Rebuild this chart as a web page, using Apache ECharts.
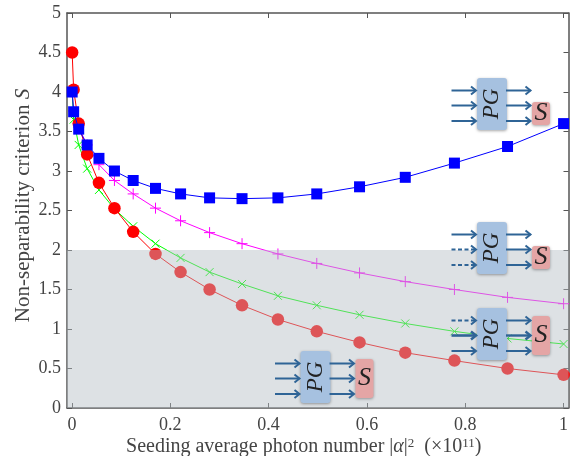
<!DOCTYPE html>
<html><head><meta charset="utf-8">
<script src="https://cdn.jsdelivr.net/npm/echarts@6/dist/echarts.min.js"></script>
<style>html,body{margin:0;padding:0;background:#fff}#c{width:580px;height:456px}</style>
</head><body><div id="c"></div>
<script>
const seeding = [0.0005,0.0035,0.0138,0.031,0.055,0.0865,0.1246,0.17,0.221,0.28,0.346,0.419,0.498,0.585,0.678,0.778,0.886,1];
const blueS    = [4.0,3.75,3.53,3.33,3.16,3.0,2.88,2.78,2.71,2.66,2.65,2.66,2.71,2.80,2.92,3.10,3.31,3.60];
const magentaS = [4.0,3.76,3.55,3.33,3.08,2.88,2.71,2.53,2.37,2.22,2.08,1.95,1.83,1.71,1.60,1.50,1.40,1.32];
const greenS   = [4.0,3.65,3.33,3.03,2.76,2.52,2.30,2.08,1.90,1.72,1.57,1.42,1.30,1.18,1.07,0.97,0.88,0.81];
const redS     = [4.5,4.03,3.6,3.21,2.85,2.53,2.23,1.95,1.72,1.50,1.30,1.12,0.97,0.83,0.70,0.60,0.50,0.42];
const xTicks = [0,0.2,0.4,0.6,0.8,1];
const separableLimit = 2;

const FONT = '"Liberation Serif"';
const AXIS = '#555';
const pair = a => a.map((v,i)=>[seeding[i],v]);
const mk = (name,data,color,symbol,size,z,stroke)=>({
  name,type:'line',data:pair(data),z,symbol,symbolSize:size,clip:false,
  lineStyle:{color,width:1},
  itemStyle:stroke?{color:'none',borderColor:color,borderWidth:1}:{color},
  emphasis:{disabled:true},animation:false
});
const PLUS='path://M0 5H10M5 0V10', CROSS='path://M0 0L10 10M0 10L10 0';

function arrow(x0,x1,y,dashed,w){
  const c='#2f6496', lw=w||2;
  return [
    {type:'polyline',z:100,silent:true,shape:{points:[[x0,y],[x1,y]]},
     style:{stroke:c,lineWidth:lw,lineDash:dashed?[4,2.5]:null,fill:null}},
    {type:'polyline',z:100,silent:true,shape:{points:[[x1-5,y-4],[x1,y],[x1-5,y+4]]},
     style:{stroke:c,lineWidth:lw,fill:null}}
  ];
}
function box(x,y,w,h,fill){
  return {type:'rect',z:99,silent:true,shape:{x,y,width:w,height:h,r:3},
    style:{fill,shadowBlur:3,shadowColor:'rgba(0,0,0,.35)',shadowOffsetY:1}};
}
function inset(px,py,sTop,sH,dash,thick){
  const ys=[py+12.5,py+27.5,py+43], out=[];
  out.push(box(px,py,30,52,'#a6c1e0'));
  out.push(box(px+55,sTop,18,sH,'#e4a5a5'));
  ys.forEach((y,i)=>{
    out.push(...arrow(px-25.5,px-1,y,dash.includes(i),thick===i?2.6:2));
    out.push(...arrow(px+29,px+53.5,y,false,thick===i?2.4:2));
  });
  out.push({type:'text',z:101,silent:true,x:px+15,y:py+26,rotation:Math.PI/2,
    style:{text:'PG',font:'italic 23px '+FONT,fill:'#222',align:'center',verticalAlign:'middle'}});
  out.push({type:'text',z:101,silent:true,x:px+64,y:sTop+sH/2,
    style:{text:'S',font:'italic 26px '+FONT,fill:'#222',align:'center',verticalAlign:'middle'}});
  return out;
}
const insets=[
  ...inset(477,78,102,23,[],-1),
  ...inset(477,222,246,23,[1,2],-1),
  ...inset(477,308,316,39,[0],1),
  ...inset(300.5,351,359,39,[],-1)
];

const xBase={type:'value',min:-0.01,max:1.01,
  axisLine:{onZero:false,lineStyle:{color:AXIS,width:1.5}},splitLine:{show:false},
  axisTick:{show:true,inside:true,length:5,lineStyle:{color:AXIS,width:1},customValues:xTicks}};
const yBase={type:'value',min:0,max:5,interval:0.5,
  axisLine:{show:true,onZero:false,lineStyle:{color:AXIS,width:1.5}},splitLine:{show:false},
  axisTick:{show:true,inside:true,length:5,lineStyle:{color:AXIS,width:1}}};

const chart=echarts.init(document.getElementById('c'),null,{renderer:'canvas'});
chart.setOption({
  animation:false,backgroundColor:'#fff',
  grid:{left:67,right:11.5,top:13,bottom:48,outerBoundsMode:'none'},
  xAxis:[
    {...xBase,position:'bottom',
     axisLabel:{customValues:xTicks,color:'#444',fontFamily:FONT,fontSize:18,margin:8},
     name:'{n|Seeding average photon number |}{i|α}{n||}{s|2}{n|  (×10}{s|11}{n|)}',
     nameLocation:'middle',nameGap:29,nameMoveOverlap:false,
     nameTextStyle:{padding:[0,28,0,0],rich:{
       n:{fontFamily:FONT,fontSize:20,color:'#444'},
       i:{fontFamily:FONT,fontSize:20,fontStyle:'italic',color:'#444'},
       s:{fontFamily:FONT,fontSize:13,color:'#444',verticalAlign:'top',lineHeight:14}}}},
    {...xBase,position:'top',axisLabel:{show:false}}
  ],
  yAxis:[
    {...yBase,position:'left',
     axisLabel:{color:'#444',fontFamily:FONT,fontSize:18,margin:6},
     name:'{n|Non-separability criterion }{i|S}',
     nameLocation:'middle',nameGap:33,nameMoveOverlap:false,
     nameTextStyle:{padding:[0,0,0,10],rich:{
       n:{fontFamily:FONT,fontSize:21,color:'#444'},
       i:{fontFamily:FONT,fontSize:21,fontStyle:'italic',color:'#444'}}}},
    {...yBase,position:'right',axisLabel:{show:false}}
  ],
  series:[
    mk('magenta',magentaS,'#ff00ff',PLUS,11,3,true),
    mk('green',greenS,'#00ff00',CROSS,8,4,true),
    mk('red',redS,'#ff0000','circle',12.5,5,false),
    mk('blue',blueS,'#0000ff','rect',11,6,false),
    {type:'line',data:[],z:50,silent:true,animation:false,
     markArea:{z:50,silent:true,animation:false,itemStyle:{color:'rgba(180,189,195,0.45)'},
       data:[[{yAxis:0},{yAxis:separableLimit}]]}}
  ],
  graphic:insets
});
</script></body></html>
